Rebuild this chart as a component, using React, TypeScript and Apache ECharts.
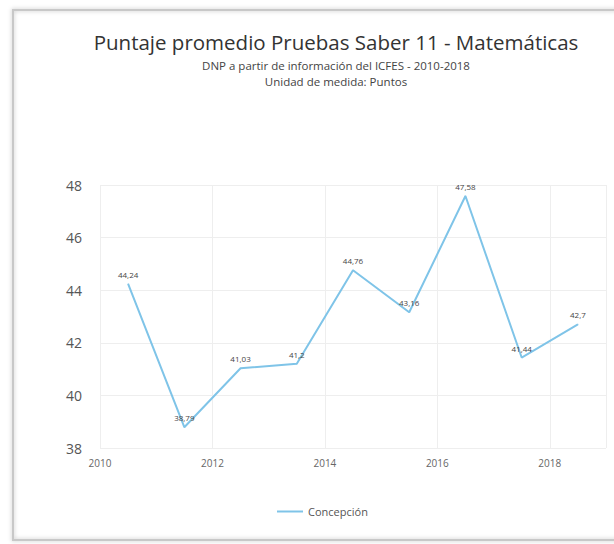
import React, { useEffect, useRef } from "react";
import * as echarts from "echarts";

const years = [2010, 2011, 2012, 2013, 2014, 2015, 2016, 2017, 2018];
const scores = [44.24, 38.79, 41.03, 41.2, 44.76, 43.16, 47.58, 41.44, 42.7];
const seriesName = "Concepción";
const titleText = "Puntaje promedio Pruebas Saber 11 - Matemáticas";
const subtitleLines = ["DNP a partir de información del ICFES - 2010-2018", "Unidad de medida: Puntos"];

export default function App() {
  const ref = useRef<HTMLDivElement>(null);
  useEffect(() => {
    if (!ref.current) return;
    const chart = echarts.init(ref.current, null, { renderer: "svg" });
    const font = "'Open Sans', 'Noto Sans', sans-serif";
    chart.setOption({
      animation: false,
      backgroundColor: "#ffffff",
      textStyle: { fontFamily: font },
      title: {
        text: titleText,
        subtext: subtitleLines.join("\n"),
        left: 331,
        top: 26,
        textAlign: "center",
        itemGap: 5,
        textStyle: { fontSize: 20.5, fontWeight: "normal", color: "#333", fontFamily: font },
        subtextStyle: { fontSize: 11.5, color: "#444", lineHeight: 16, fontFamily: font },
      },
      graphic: [
        {
          type: "rect",
          shape: { x: 13, y: 10, width: 610, height: 530 },
          style: { fill: "none", stroke: "#c8c8c8", lineWidth: 2, shadowBlur: 4, shadowColor: "rgba(0,0,0,0.25)" },
          silent: true,
        },
      ],
      legend: {
        bottom: 22,
        left: 272,
        itemWidth: 26,
        itemHeight: 2,
        itemGap: 6,
        icon: "rect",
        textStyle: { fontSize: 11, color: "#555" },
        data: [seriesName],
      },
      grid: { left: 100, right: 8, top: 185, bottom: 96 },
      xAxis: {
        type: "value",
        min: 2010,
        max: 2019,
        interval: 2,
        axisLine: { show: false },
        axisTick: { show: false },
        axisLabel: { fontSize: 10, color: "#666", margin: 10, formatter: (v: number) => (v <= 2018 ? String(v) : "") },
        splitLine: { show: true, lineStyle: { color: "#eeeeee" } },
      },
      yAxis: {
        type: "value",
        min: 38,
        max: 48,
        interval: 2,
        axisLine: { show: false },
        axisTick: { show: false },
        axisLabel: { fontSize: 14, color: "#555", margin: 18 },
        splitLine: { lineStyle: { color: "#eeeeee" } },
      },
      series: [
        {
          name: seriesName,
          type: "line",
          data: years.map((y, i) => [y + 0.5, scores[i]]),
          symbol: "circle",
          symbolSize: 1,
          showSymbol: true,
          lineStyle: { color: "#7fc4e8", width: 2 },
          itemStyle: { color: "#7fc4e8" },
          label: {
            show: true,
            position: "top",
            distance: 5,
            fontSize: 8,
            color: "#444",
            formatter: (p: any) => String(p.value[1]).replace(".", ","),
          },
        },
      ],
    });
    return () => chart.dispose();
  }, []);
  return <div ref={ref} style={{ width: 614, height: 544, position: "absolute", left: 0, top: 0 }} />;
}
